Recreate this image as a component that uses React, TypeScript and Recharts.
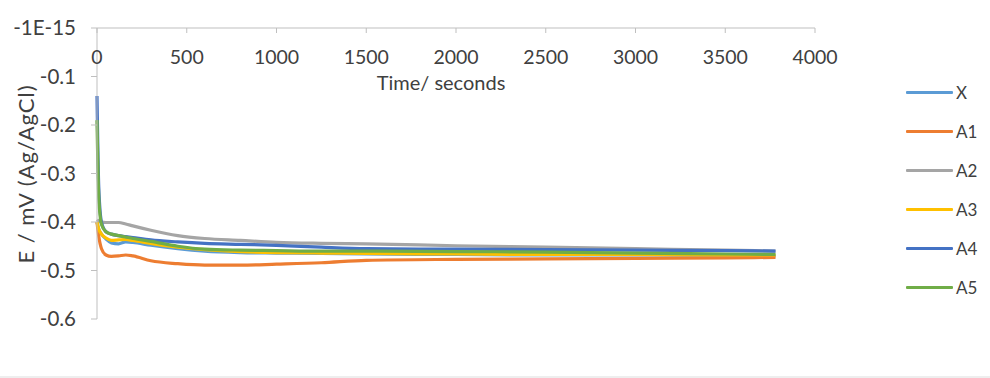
import React from 'react';
import { LineChart, Line, XAxis, YAxis } from 'recharts';

const times = [0, 10, 25, 50, 80, 120, 160, 200, 300, 450, 600, 800, 1000, 1250, 1500, 2000, 2500, 3000, 3500, 3780];
const seriesX = [-0.4, -0.415, -0.425, -0.435, -0.443, -0.445, -0.441, -0.442, -0.448, -0.455, -0.46, -0.463, -0.464, -0.465, -0.466, -0.467, -0.468, -0.468, -0.469, -0.47];
const seriesA1 = [-0.4, -0.43, -0.455, -0.468, -0.471, -0.47, -0.468, -0.47, -0.48, -0.486, -0.489, -0.489, -0.487, -0.484, -0.479, -0.477, -0.476, -0.475, -0.474, -0.473];
const seriesA2 = [-0.395, -0.398, -0.4, -0.401, -0.401, -0.401, -0.404, -0.408, -0.417, -0.428, -0.434, -0.438, -0.442, -0.444, -0.445, -0.449, -0.452, -0.455, -0.458, -0.46];
const seriesA3 = [-0.4, -0.415, -0.425, -0.433, -0.438, -0.437, -0.436, -0.438, -0.444, -0.452, -0.457, -0.461, -0.463, -0.464, -0.465, -0.466, -0.467, -0.467, -0.468, -0.468];
const seriesA4 = [-0.14, -0.33, -0.4, -0.42, -0.425, -0.428, -0.43, -0.432, -0.437, -0.441, -0.444, -0.446, -0.448, -0.452, -0.455, -0.456, -0.457, -0.458, -0.459, -0.46];
const seriesA5 = [-0.19, -0.35, -0.405, -0.42, -0.425, -0.428, -0.431, -0.434, -0.44, -0.45, -0.456, -0.458, -0.459, -0.46, -0.46, -0.461, -0.462, -0.464, -0.466, -0.467];

const seriesNames = ['X', 'A1', 'A2', 'A3', 'A4', 'A5'];
const seriesColors = ['#5B9BD5', '#ED7D31', '#A5A5A5', '#FFC000', '#4472C4', '#70AD47'];
const seriesValues = [seriesX, seriesA1, seriesA2, seriesA3, seriesA4, seriesA5];

const xTicks = [0, 500, 1000, 1500, 2000, 2500, 3000, 3500, 4000];
const yTicks = [-0.6, -0.5, -0.4, -0.3, -0.2, -0.1, 0];

const xTitle = 'Time/ seconds';
const yTitle = 'E / mV (Ag/AgCl)';

const data = times.map((t, i) => {
  const row: Record<string, number> = { t };
  seriesNames.forEach((n, k) => {
    row[n] = seriesValues[k][i];
  });
  return row;
});

const FONT = 'Lato, "Open Sans", sans-serif';
const TEXT = '#404040';
const AXIS = '#BFBFBF';

const fmtY = (v: number) => (Math.abs(v) < 1e-9 ? '-1E-15' : v.toFixed(1));

export default function App() {
  return (
    <div style={{ position: 'absolute', left: 0, top: 0, width: 990, height: 378, background: '#fff', fontFamily: FONT }}>
      <LineChart width={990} height={378} data={data} margin={{ top: 28, right: 175, bottom: 59, left: 0 }}>
        <XAxis
          dataKey="t"
          type="number"
          domain={[0, 4000]}
          ticks={xTicks}
          orientation="top"
          mirror
          stroke={AXIS}
          tickSize={5}
          tickMargin={17}
          tick={{ fill: TEXT, fontSize: 19.5, fontFamily: FONT }}
          interval={0}
          label={{
            content: () => (
              <text x={441} y={82} textAnchor="middle" dominantBaseline="central" fill={TEXT} fontSize={20} fontFamily={FONT}>
                {xTitle}
              </text>
            ),
          }}
        />
        <YAxis
          type="number"
          domain={[-0.6, 0]}
          ticks={yTicks}
          width={97}
          stroke={AXIS}
          tickSize={6}
          tickMargin={15}
          tickFormatter={fmtY}
          tick={{ fill: TEXT, fontSize: 20.5, fontFamily: FONT }}
          interval={0}
          label={{
            content: () => (
              <text
                x={25}
                y={174}
                transform="rotate(-90, 25, 174)"
                textAnchor="middle"
                dominantBaseline="central"
                fill={TEXT}
                fontSize={22}
                letterSpacing={1}
                fontFamily={FONT}
              >
                {yTitle}
              </text>
            ),
          }}
        />
        {seriesNames.map((n, k) => (
          <Line
            key={n}
            type="monotone"
            dataKey={n}
            stroke={seriesColors[k]}
            strokeWidth={3.2}
            dot={false}
            isAnimationActive={false}
          />
        ))}
      </LineChart>
      <div style={{ position: 'absolute', left: 906, top: 73 }}>
        {seriesNames.map((n, k) => (
          <div key={n} style={{ display: 'flex', alignItems: 'center', height: 39 }}>
            <div style={{ width: 47, height: 3, background: seriesColors[k], borderRadius: 1 }} />
            <span style={{ marginLeft: 3, fontSize: 17, color: TEXT, lineHeight: '17px' }}>{n}</span>
          </div>
        ))}
      </div>
      <div style={{ position: 'absolute', left: 0, top: 376, width: 990, height: 2, background: '#EEEEEE' }} />
    </div>
  );
}
